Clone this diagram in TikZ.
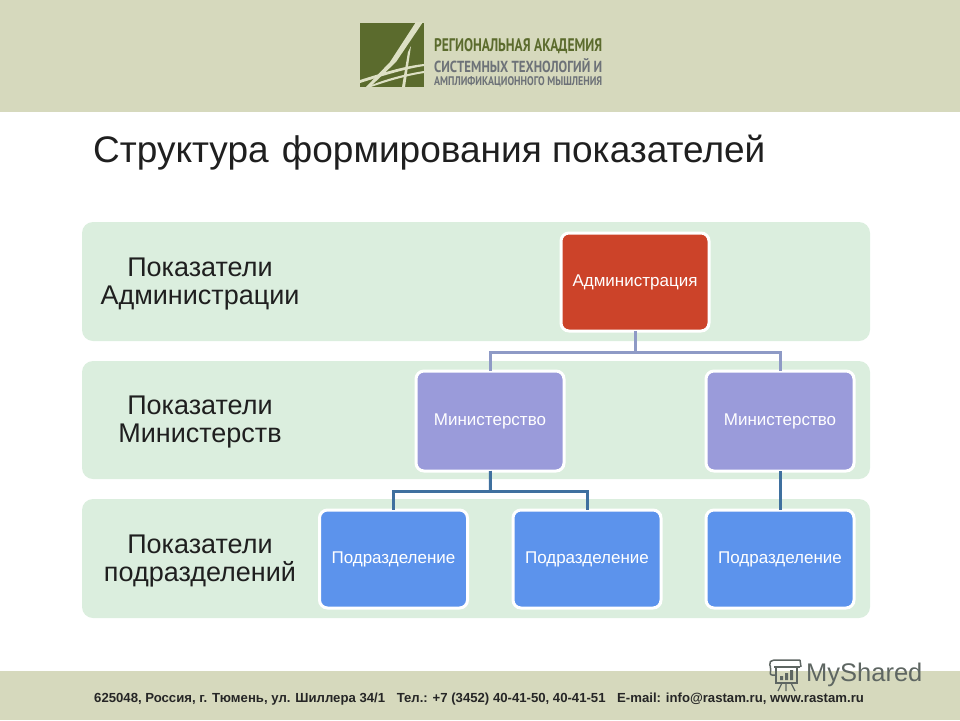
\documentclass[tikz,border=0pt]{standalone}
\usepackage{fontspec}
\setmainfont{Liberation Sans}
\newfontfamily\logofont{PT Sans}
\usepackage{tikz}
\usetikzlibrary{positioning, arrows.meta}
\definecolor{bandOlive}{HTML}{D6D9BD}
\definecolor{levelGreen}{HTML}{DBEEDE}
\definecolor{adminRed}{HTML}{CC4329}
\definecolor{minViolet}{HTML}{9A9BDA}
\definecolor{subBlue}{HTML}{5C93EC}
\definecolor{linkGrey}{HTML}{8E9AC6}
\definecolor{linkBlue}{HTML}{3F709F}
\definecolor{logoGreen}{HTML}{5B6B2D}
\definecolor{logoCream}{HTML}{DDE0C4}
\definecolor{logoGrey}{HTML}{6D7278}
\definecolor{markGrey}{HTML}{5E6662}
\tikzset{
    level/.style={fill=levelGreen,rounded corners=11pt,minimum width=788pt,minimum height=119pt,anchor=north west,outer sep=0pt},
    levelLabel/.style={align=center,font=\fontsize{27}{28}\selectfont,text=black!88},
    unit/.style={draw=white,line width=3pt,rounded corners=8pt,minimum width=148pt,minimum height=98pt,outer sep=0pt,text=white,font=\fontsize{17}{20}\selectfont},
    linkTop/.style={draw=linkGrey,line width=3pt},
    linkLow/.style={draw=linkBlue,line width=3pt},
    logoLine/.style={anchor=west,inner sep=0pt,font=\logofont\bfseries}
}
\begin{document}
\begin{tikzpicture}[x=1pt,y=-1pt]
    \useasboundingbox (0,0) rectangle (960,720);
    \fill[bandOlive] (0,0) rectangle (960,112);
    \fill[bandOlive] (0,671) rectangle (960,720);
    \fill[logoGreen] (360,23) rectangle (424,87);
    \fill[logoCream] (423,22) -- (416,22) -- (390,62) -- (366,87) -- (370,87) -- (396,62) -- cycle;
    \fill[logoCream] (411,46) -- (408,52) -- (402,87) -- (405,87) -- cycle;
    \fill[logoCream] (360,80) .. controls (385,72) and (405,66) .. (424,64) -- (424,66) .. controls (405,69) and (385,75) .. (360,83) -- cycle;
    \fill[logoCream] (367,87) .. controls (385,79) and (405,74) .. (424,71) -- (424,73) .. controls (405,76) and (385,82) .. (371,87) -- cycle;
    \node[logoLine,text=logoGreen] (logoA) at (434,46.5) {\resizebox{168pt}{13pt}{РЕГИОНАЛЬНАЯ АКАДЕМИЯ}};
    \node[logoLine,text=logoGrey] (logoB) at (434,65.5) {\resizebox{168pt}{14pt}{СИСТЕМНЫХ ТЕХНОЛОГИЙ И}};
    \node[logoLine,text=logoGrey] (logoC) at (434,82) {\resizebox{168pt}{9pt}{АМПЛИФИКАЦИОННОГО МЫШЛЕНИЯ}};
    \node[anchor=west,inner sep=0pt,font=\fontsize{37}{40}\selectfont,text=black!88] (title) at (93,152.5) {Структура\hspace{3pt} формирования показателей};
    \node[level] (levelA) at (82,222) {};
    \node[level,minimum height=118pt,below=20pt of levelA] (levelM) {};
    \node[level,below=20pt of levelM] (levelS) {};
    \node[levelLabel] (labelA) at (200,284) {Показатели\\Администрации};
    \node[levelLabel] (labelM) at (200,422) {Показатели\\Министерств};
    \node[levelLabel] (labelS) at (200,561) {Показатели\\подразделений};
    \node[unit,fill=adminRed] (admin) at (635,282) {Администрация};
    \node[unit,fill=minViolet,minimum height=100pt,below=40pt of admin,xshift=-145pt] (minL) {Министерство};
    \node[unit,fill=minViolet,minimum height=100pt,below=40pt of admin,xshift=145pt] (minR) {Министерство};
    \node[unit,fill=subBlue,below=39pt of minL,xshift=-96.5pt] (subL) {Подразделение};
    \node[unit,fill=subBlue,below=39pt of minL,xshift=97pt] (subM) {Подразделение};
    \node[unit,fill=subBlue,below=39pt of minR] (subR) {Подразделение};
    \coordinate (busTop) at (635,352);
    \coordinate (busLow) at (490.5,491);
    \draw[linkTop] (admin) -- (busTop);
    \draw[linkTop] (busTop) -| (minL);
    \draw[linkTop] (busTop) -| (minR);
    \draw[linkLow] (minL) -- (busLow);
    \draw[linkLow] (busLow) -| (subL);
    \draw[linkLow] (busLow) -| (subM);
    \draw[linkLow] (minR) -- (subR);
    \node[anchor=west,inner sep=0pt,font=\bfseries\fontsize{13.15}{15}\selectfont,text=black!85] (contacts) at (94,699.5) {625048, Россия, г. Тюмень, ул. Шиллера 34/1\hspace{8pt} Тел.: +7 (3452) 40-41-50, 40-41-51\hspace{8pt} E-mail: info@rastam.ru, www.rastam.ru};
    \node[anchor=west,inner sep=0pt,font=\fontsize{25.5}{28}\selectfont,text=markGrey] (myshared) at (806,675) {MyShared};
    \draw[markGrey,line width=1.5pt,rounded corners=2pt] (800,660) -- (772,660) -- (769,663) -- (771,668) -- (770,675) -- (775,675);
    \draw[markGrey,line width=1.5pt] (774,667) -- (800,667) (776,667) -- (776,683) -- (797,683) -- (797,667);
    \draw[markGrey,line width=1.5pt] (800,660) -- (801,667);
    \fill[markGrey] (780,680) rectangle (783,676) (785,680) rectangle (788,673) (790,680) rectangle (793,670);
    \draw[markGrey,line width=1.2pt] (782,683) -- (778,691) (786,683) -- (786,691) (791,683) -- (795,691);
\end{tikzpicture}
\end{document}
